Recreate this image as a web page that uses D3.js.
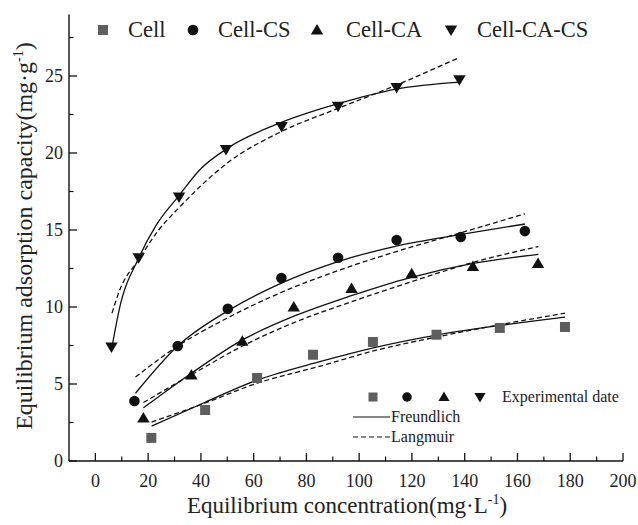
<!DOCTYPE html>
<html><head><meta charset="utf-8">
<script src="https://cdn.jsdelivr.net/npm/d3@7"></script>
<style>body{margin:0;background:#fff}svg{display:block}</style>
</head><body>
<script>
// ---- data ----
const seriesNames = ["Cell", "Cell-CS", "Cell-CA", "Cell-CA-CS"];
const cellX = [21.2, 41.6, 61.3, 82.5, 105.2, 129.3, 153.3, 178];
const cellY = [1.5, 3.31, 5.39, 6.9, 7.73, 8.2, 8.64, 8.7];
const csX = [14.8, 31.2, 50.2, 70.5, 92.0, 114.2, 138.5, 162.8];
const csY = [3.9, 7.47, 9.88, 11.88, 13.2, 14.35, 14.55, 14.93];
const caX = [18.2, 36.4, 55.7, 75.2, 97.1, 119.9, 143.1, 167.8];
const caY = [2.8, 5.58, 7.77, 10.0, 11.2, 12.16, 12.63, 12.82];
const cacsX = [6.1, 16.4, 31.7, 49.5, 70.6, 92.0, 114.2, 138.0];
const cacsY = [7.4, 13.2, 17.15, 20.23, 21.72, 23.03, 24.25, 24.75];

const freundCell = [[21.3,2.27],[41.4,3.8],[61.3,5.25],[85,6.45],[106.6,7.4],[129.3,8.18],[153.3,8.8],[178,9.35]];
const langCell = [[21.3,2.53],[41.4,3.75],[61.3,5.05],[85,6.15],[106.6,7.2],[129.3,8.05],[153.3,8.85],[178,9.6]];
const freundCS = [[15.2,4.4],[31.1,7.45],[50.2,9.75],[70.5,11.55],[92,12.95],[114.1,13.96],[138.1,14.7],[162.8,15.39]];
const langCS = [[15.2,5.45],[31.1,7.45],[50.2,9.3],[70.5,10.95],[92.6,12.4],[114.1,13.6],[138.1,14.8],[162.8,16.05]];
const freundCA = [[18.2,3.45],[36.4,5.7],[55.6,7.85],[75.5,9.42],[96.4,10.7],[119.8,11.93],[143.2,12.83],[167.9,13.42]];
const langCA = [[18.2,3.8],[36.4,5.6],[55.6,7.45],[75.5,9.0],[96.4,10.3],[119.8,11.64],[143.2,12.9],[167.9,13.92]];
const freundCACS = [[6.5,7.6],[9,9.8],[16.5,13.2],[23,15.3],[32,17.3],[39.5,18.9],[50,20.3],[70,21.95],[92,23.2],[114,24.15],[138,24.6]];
const langCACS = [[6.3,9.6],[9,11.0],[16.5,13.1],[24,15.0],[32,16.5],[50,19.35],[70,21.35],[92,22.9],[114,24.4],[138,26.2]];

const xTicks = [0,20,40,60,80,100,120,140,160,180,200];
const xMinor = [10,30,50,70,90,110,130,150,170,190];
const yTicks = [0,5,10,15,20,25];
const yMinor = [2.5,7.5,12.5,17.5,22.5,27.5];

// ---- drawing ----
const W = 638, H = 525;
const svg = d3.select("body").append("svg").attr("width", W).attr("height", H)
  .attr("font-family", "'Liberation Serif', 'Times New Roman', 'DejaVu Serif', serif");
const x = d3.scaleLinear().domain([-10, 200]).range([69, 623]);
const y = d3.scaleLinear().domain([0, 29]).range([461, 14.4]);
const ink = "#222";

const ax = svg.append("g");
ax.append("line").attr("x1", x(-10)).attr("x2", x(200)).attr("y1", y(0)).attr("y2", y(0)).attr("stroke", "#111").attr("stroke-width", 1.4);
ax.append("line").attr("x1", x(-10)).attr("x2", x(-10)).attr("y1", y(0)).attr("y2", y(29)).attr("stroke", "#111").attr("stroke-width", 1.4);
ax.selectAll(".xt").data(xTicks).join("line").attr("x1", d => x(d)).attr("x2", d => x(d)).attr("y1", y(0)).attr("y2", y(0) - 8).attr("stroke", "#111").attr("stroke-width", 1.3);
ax.selectAll(".xm").data(xMinor).join("line").attr("x1", d => x(d)).attr("x2", d => x(d)).attr("y1", y(0)).attr("y2", y(0) - 4.5).attr("stroke", "#111").attr("stroke-width", 1.2);
ax.selectAll(".xl").data(xTicks).join("text").attr("x", d => x(d)).attr("y", 487).attr("text-anchor", "middle").attr("font-size", 18).attr("fill", ink).text(d => d);
ax.selectAll(".yt").data(yTicks).join("line").attr("x1", x(-10)).attr("x2", x(-10) + 8).attr("y1", d => y(d)).attr("y2", d => y(d)).attr("stroke", "#111").attr("stroke-width", 1.3);
ax.selectAll(".ym").data(yMinor).join("line").attr("x1", x(-10)).attr("x2", x(-10) + 4.5).attr("y1", d => y(d)).attr("y2", d => y(d)).attr("stroke", "#111").attr("stroke-width", 1.2);
ax.selectAll(".yl").data(yTicks).join("text").attr("x", 63).attr("y", d => y(d)).attr("dy", "0.35em").attr("text-anchor", "end").attr("font-size", 18).attr("fill", ink).text(d => d);

const xt = svg.append("text").attr("x", 347).attr("y", 513).attr("text-anchor", "middle").attr("font-size", 23).attr("fill", ink);
xt.append("tspan").text("Equilibrium concentration(mg·L");
xt.append("tspan").attr("dy", -9).attr("font-size", 14).text("-1");
xt.append("tspan").attr("dy", 9).text(")");
const yt = svg.append("text").attr("transform", "translate(32,236) rotate(-90)").attr("text-anchor", "middle").attr("font-size", 24).attr("fill", ink);
yt.append("tspan").text("Equilibrium adsorption capacity(mg·g");
yt.append("tspan").attr("dy", -9).attr("font-size", 14).text("-1");
yt.append("tspan").attr("dy", 9).text(")");

const line = d3.line().x(d => x(d[0])).y(d => y(d[1])).curve(d3.curveMonotoneX);
const lg = svg.append("g").attr("fill", "none").attr("stroke", "#111").attr("stroke-width", 1.3);
[freundCell, freundCS, freundCA, freundCACS].forEach(c => lg.append("path").attr("d", line(c)));
[langCell, langCS, langCA, langCACS].forEach(c => lg.append("path").attr("d", line(c)).attr("stroke-dasharray", "5,3"));

function marker(g, kind, cx, cy, s) {
  if (kind === 0) g.append("rect").attr("x", cx - s/2).attr("y", cy - s/2).attr("width", s).attr("height", s).attr("fill", "#5e5e5e");
  else if (kind === 1) g.append("circle").attr("cx", cx).attr("cy", cy).attr("r", s * 0.53).attr("fill", "#111");
  else if (kind === 2) g.append("path").attr("d", `M${cx - s*0.62},${cy + s*0.45}L${cx + s*0.62},${cy + s*0.45}L${cx},${cy - s*0.6}Z`).attr("fill", "#111");
  else g.append("path").attr("d", `M${cx - s*0.62},${cy - s*0.45}L${cx + s*0.62},${cy - s*0.45}L${cx},${cy + s*0.6}Z`).attr("fill", "#111");
}
const pts = svg.append("g");
[[cellX, cellY], [csX, csY], [caX, caY], [cacsX, cacsY]].forEach((s, k) => {
  s[0].forEach((v, i) => marker(pts, k, x(v), y(s[1][i]), 10));
});

const legX = [103, 193, 317, 451], legTX = [128, 218, 346, 477];
const tl = svg.append("g");
seriesNames.forEach((n, k) => {
  marker(tl, k, legX[k], 30, 10);
  tl.append("text").attr("x", legTX[k]).attr("y", 37).attr("font-size", 22.5).attr("fill", ink).text(n);
});

const bl = svg.append("g");
[373, 407, 444, 480].forEach((px, k) => marker(bl, k, px, 397, 9));
bl.append("text").attr("x", 502).attr("y", 402).attr("font-size", 16).attr("fill", ink).text("Experimental date");
bl.append("line").attr("x1", 353).attr("x2", 390).attr("y1", 417).attr("y2", 417).attr("stroke", "#111").attr("stroke-width", 1.2);
bl.append("text").attr("x", 391).attr("y", 422).attr("font-size", 16).attr("fill", ink).text("Freundlich");
bl.append("line").attr("x1", 353).attr("x2", 390).attr("y1", 437).attr("y2", 437).attr("stroke", "#111").attr("stroke-width", 1.2).attr("stroke-dasharray", "5,3");
bl.append("text").attr("x", 391).attr("y", 442).attr("font-size", 16).attr("fill", ink).text("Langmuir");
</script>
</body></html>
